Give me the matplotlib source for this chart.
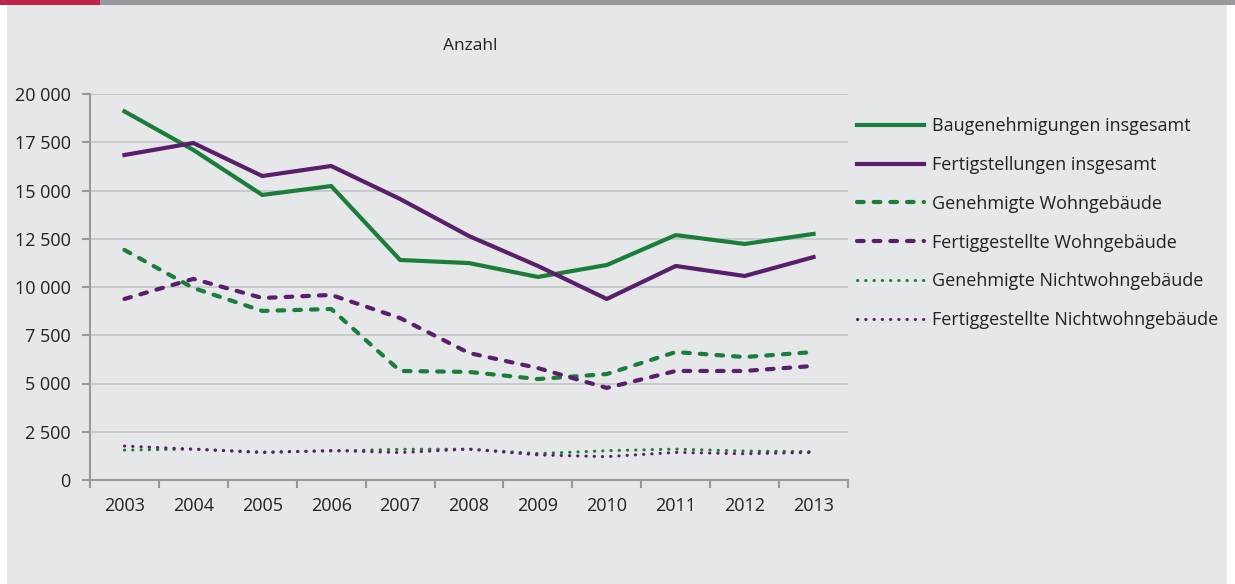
import matplotlib.pyplot as plt
from matplotlib.patches import Rectangle
from matplotlib.ticker import FuncFormatter

plt.rcParams["font.family"] = ["Open Sans", "DejaVu Sans"]

years = [2003, 2004, 2005, 2006, 2007, 2008, 2009, 2010, 2011, 2012, 2013]

bau_gesamt = [19100, 17100, 14770, 15230, 11400, 11240, 10520, 11140, 12690, 12230, 12750]
fertig_gesamt = [16840, 17460, 15750, 16270, 14560, 12640, 11090, 9380, 11090, 10570, 11550]
gen_wohn = [11920, 9950, 8760, 8860, 5650, 5600, 5230, 5490, 6630, 6370, 6630]
fertig_wohn = [9380, 10420, 9430, 9590, 8390, 6580, 5800, 4770, 5650, 5650, 5910]
gen_nichtwohn = [1550, 1600, 1450, 1500, 1590, 1600, 1370, 1520, 1600, 1500, 1470]
fertig_nichtwohn = [1760, 1600, 1420, 1530, 1420, 1600, 1300, 1210, 1430, 1360, 1430]

labels = [
    "Baugenehmigungen insgesamt",
    "Fertigstellungen insgesamt",
    "Genehmigte Wohngebäude",
    "Fertiggestellte Wohngebäude",
    "Genehmigte Nichtwohngebäude",
    "Fertiggestellte Nichtwohngebäude",
]

green = "#1b7d3a"
purple = "#5a1f6b"
bg = "#e6e7e9"

fig = plt.figure(figsize=(12.35, 5.84), dpi=100)
fig.patch.set_facecolor("white")

# grey panel + top bar (behind the axes)
fig.patches.append(Rectangle((7 / 1235, 0), 1220 / 1235, 1, transform=fig.transFigure,
                             facecolor=bg, edgecolor="none", zorder=-2))
fig.patches.append(Rectangle((0, 1 - 5 / 584), 100 / 1235, 5 / 584, transform=fig.transFigure,
                             facecolor="#c0234b", edgecolor="none", zorder=-1))
fig.patches.append(Rectangle((100 / 1235, 1 - 5 / 584), 1135 / 1235, 5 / 584, transform=fig.transFigure,
                             facecolor="#98999d", edgecolor="none", zorder=-1))

ax = fig.add_axes([90 / 1235, 104 / 584, 758 / 1235, 386 / 584])
ax.set_facecolor("none")

dash = dict(linewidth=3, linestyle=(0, (1.6, 2.4)), dash_capstyle="round")
dot = dict(linewidth=2.2, linestyle=(0, (0.1, 2.6)), dash_capstyle="round")

ax.plot(years, bau_gesamt, color=green, linewidth=3, label=labels[0])
ax.plot(years, fertig_gesamt, color=purple, linewidth=3, label=labels[1])
ax.plot(years, gen_wohn, color=green, label=labels[2], **dash)
ax.plot(years, fertig_wohn, color=purple, label=labels[3], **dash)
ax.plot(years, gen_nichtwohn, color=green, label=labels[4], **dot)
ax.plot(years, fertig_nichtwohn, color=purple, label=labels[5], **dot)

ax.set_xlim(2002.5, 2013.5)
ax.set_ylim(0, 20000)
ax.set_xticks(years)
ax.set_xticks([y + 0.5 for y in [2002] + years], minor=True)
ax.set_yticks(range(0, 20001, 2500))
ax.yaxis.set_major_formatter(FuncFormatter(lambda v, p: f"{int(v):,}".replace(",", " ")))

ax.grid(axis="y", color="#c4c5c8", linewidth=1.2)
ax.set_axisbelow(True)
for s in ["top", "right"]:
    ax.spines[s].set_visible(False)
for s in ["left", "bottom"]:
    ax.spines[s].set_color("#98999d")
    ax.spines[s].set_linewidth(1.5)

ax.tick_params(axis="x", which="major", length=0, pad=12, labelsize=13, colors="#222222")
ax.tick_params(axis="x", which="minor", length=6, width=1.5, color="#98999d")
ax.tick_params(axis="y", length=6, width=1.5, color="#98999d", pad=8, labelsize=13, labelcolor="#222222")

fig.text(470 / 1235, 1 - 46 / 584, "Anzahl", ha="center", va="center", fontsize=12.5, color="#222222")

ax.legend(loc="upper left", bbox_to_anchor=(850 / 1235, 1 - 110 / 584), bbox_transform=fig.transFigure,
          frameon=False, fontsize=13, handlelength=3.7, handletextpad=0.45, labelspacing=1.15,
          labelcolor="#222222", borderaxespad=0)

fig.savefig("out.png", dpi=100, facecolor=fig.get_facecolor())
